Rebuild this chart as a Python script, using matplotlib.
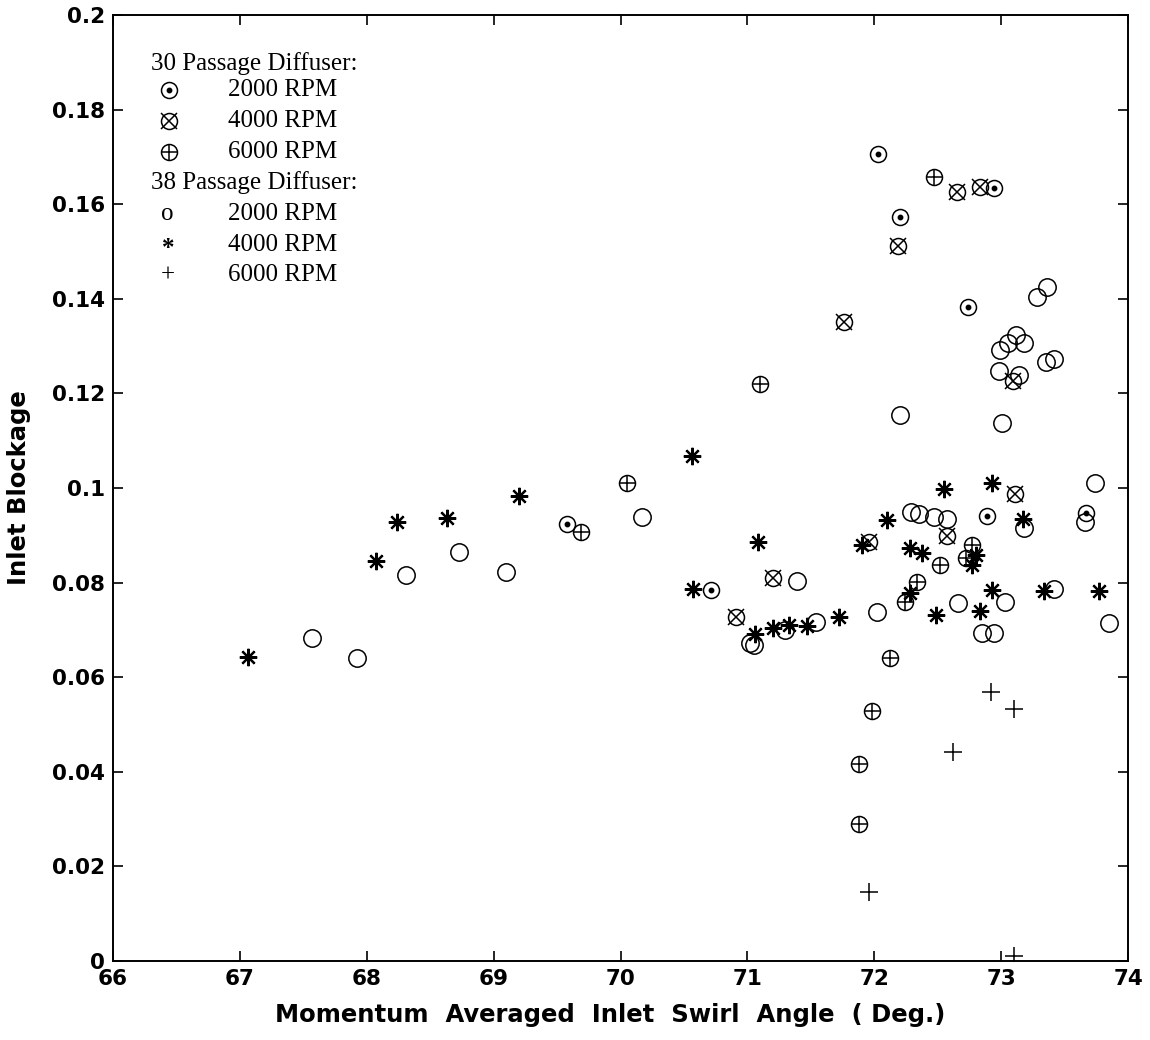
import matplotlib
matplotlib.use("Agg")
import matplotlib.pyplot as plt
from matplotlib.ticker import FuncFormatter, MultipleLocator

# ── data ────────────────────────────────────────────────────────────────────
# 30 passage diffuser
d30_2000_x = [72.03, 72.20, 72.94, 72.74, 69.58, 70.71, 72.89, 73.67]
d30_2000_y = [0.1706, 0.1573, 0.1634, 0.1383, 0.0924, 0.0784, 0.0941, 0.0947]

d30_4000_x = [72.65, 72.83, 72.19, 71.76, 73.09, 73.11, 71.96, 72.57, 71.20, 70.91]
d30_4000_y = [0.1626, 0.1636, 0.1512, 0.1351, 0.1226, 0.0987, 0.0886, 0.0899, 0.0810, 0.0727]

d30_6000_x = [72.47, 71.10, 70.05, 69.69, 72.77, 72.72, 72.52, 72.34, 72.24, 72.12,
              71.98, 71.88, 71.88]
d30_6000_y = [0.1658, 0.1220, 0.1011, 0.0907, 0.0880, 0.0852, 0.0837, 0.0801, 0.0759, 0.0641,
              0.0529, 0.0416, 0.0290]

# 38 passage diffuser
d38_2000_x = [73.36, 73.28, 73.12, 73.05, 73.18, 72.99, 73.42, 73.35, 72.98, 73.14,
              72.20, 73.01, 73.74, 72.29, 72.35, 72.47, 72.57, 73.18, 73.66, 70.17,
              68.73, 68.31, 69.10, 67.57, 67.92, 71.39, 71.02, 71.05, 71.30, 71.54,
              72.02, 72.66, 73.03, 72.85, 72.94, 73.42, 73.85]
d38_2000_y = [0.1425, 0.1404, 0.1323, 0.1307, 0.1307, 0.1292, 0.1273, 0.1266, 0.1247, 0.1239,
              0.1154, 0.1137, 0.1010, 0.0949, 0.0945, 0.0938, 0.0934, 0.0915, 0.0928, 0.0939,
              0.0865, 0.0816, 0.0822, 0.0683, 0.0641, 0.0803, 0.0672, 0.0668, 0.0700, 0.0717,
              0.0738, 0.0757, 0.0759, 0.0693, 0.0693, 0.0786, 0.0715]

d38_4000_x = [67.06, 68.07, 68.24, 68.63, 69.20, 70.56, 70.57, 71.08, 71.06, 71.20,
              71.33, 71.47, 71.72, 71.90, 72.10, 72.28, 72.38, 72.28, 72.49, 72.55,
              72.80, 72.77, 72.83, 72.93, 72.93, 73.17, 73.34, 73.77]
d38_4000_y = [0.0643, 0.0846, 0.0928, 0.0937, 0.0983, 0.1068, 0.0786, 0.0886, 0.0691, 0.0704,
              0.0710, 0.0708, 0.0727, 0.0880, 0.0932, 0.0873, 0.0863, 0.0778, 0.0731, 0.0998,
              0.0858, 0.0837, 0.0740, 0.1010, 0.0784, 0.0934, 0.0782, 0.0782]

d38_6000_x = [72.92, 73.10, 72.62, 71.96, 73.10]
d38_6000_y = [0.0569, 0.0533, 0.0442, 0.0146, 0.0010]

legend_rows = ["30 Passage Diffuser:", "2000 RPM", "4000 RPM", "6000 RPM",
               "38 Passage Diffuser:", "2000 RPM", "4000 RPM", "6000 RPM"]
# ────────────────────────────────────────────────────────────────────────────

MS = 11.5
LW = 1.1
star = (8, 2, 0)

fig = plt.figure(figsize=(11.5, 10.4), dpi=100)
ax = fig.add_axes([0.0983, 0.076, 0.8826, 0.9096])

circ = dict(linestyle="none", marker="o", ms=MS, mfc="none", mec="black", mew=LW)


def circle_with(ax, x, y, inner, inner_ms, transform=None):
    kw = {} if transform is None else {"transform": transform, "clip_on": False}
    ax.plot(x, y, **circ, **kw)
    if inner == "dot":
        ax.plot(x, y, linestyle="none", marker="o", ms=3.2, mfc="black", mec="black", **kw)
    else:
        ax.plot(x, y, linestyle="none", marker=inner, ms=inner_ms, color="black", mew=LW, **kw)


circle_with(ax, d30_2000_x, d30_2000_y, "dot", 0)
circle_with(ax, d30_4000_x, d30_4000_y, "x", MS - 0.5)
circle_with(ax, d30_6000_x, d30_6000_y, "+", MS)
ax.plot(d38_2000_x, d38_2000_y, **dict(circ, ms=MS + 1))
ax.plot(d38_4000_x, d38_4000_y, linestyle="none", marker=star, ms=MS + 1,
        color="black", mew=1.6)
ax.plot(d38_6000_x, d38_6000_y, linestyle="none", marker="+", ms=MS + 1,
        color="black", mew=LW)

ax.set_xlim(66, 74)
ax.set_ylim(0, 0.2)
ax.xaxis.set_major_locator(MultipleLocator(1))
ax.yaxis.set_major_locator(MultipleLocator(0.02))
ax.yaxis.set_major_formatter(FuncFormatter(lambda v, p: f"{v:.2f}".rstrip("0").rstrip(".")))
ax.tick_params(direction="in", length=7, width=1.2, top=True, right=True,
               labelsize=15.5, pad=6)
for lab in ax.get_xticklabels() + ax.get_yticklabels():
    lab.set_fontweight("bold")
for s in ax.spines.values():
    s.set_linewidth(1.4)

ax.set_xlabel("Momentum  Averaged  Inlet  Swirl  Angle  ( Deg.)", fontsize=17.5,
              fontweight="bold")
ax.set_ylabel("Inlet Blockage", fontsize=17.5, fontweight="bold")
ax.xaxis.set_label_coords(0.49, -0.044)
ax.yaxis.set_label_coords(-0.081, 0.5)

# legend block written in the upper left corner
serif = dict(family="Liberation Serif", fontsize=18, va="center", transform=ax.transAxes)
row_y = [0.949, 0.921, 0.888, 0.855, 0.823, 0.790, 0.757, 0.725]
sym_x = 0.055
txt_x = 0.113
for i, label in enumerate(legend_rows):
    if i in (0, 4):
        ax.text(0.037, row_y[i], label, ha="left", **serif)
    else:
        ax.text(txt_x, row_y[i], label, ha="left", **serif)

circle_with(ax, [sym_x], [row_y[1]], "dot", 0, transform=ax.transAxes)
circle_with(ax, [sym_x], [row_y[2]], "x", MS - 0.5, transform=ax.transAxes)
circle_with(ax, [sym_x], [row_y[3]], "+", MS, transform=ax.transAxes)
ax.text(0.047, row_y[5], "o", ha="left", **serif)
ax.text(0.048, row_y[6] - 0.004, "*", ha="left", **dict(serif, fontweight="bold"))
ax.text(0.047, row_y[7], "+", ha="left", **serif)

fig.savefig("out.png", dpi=100)
